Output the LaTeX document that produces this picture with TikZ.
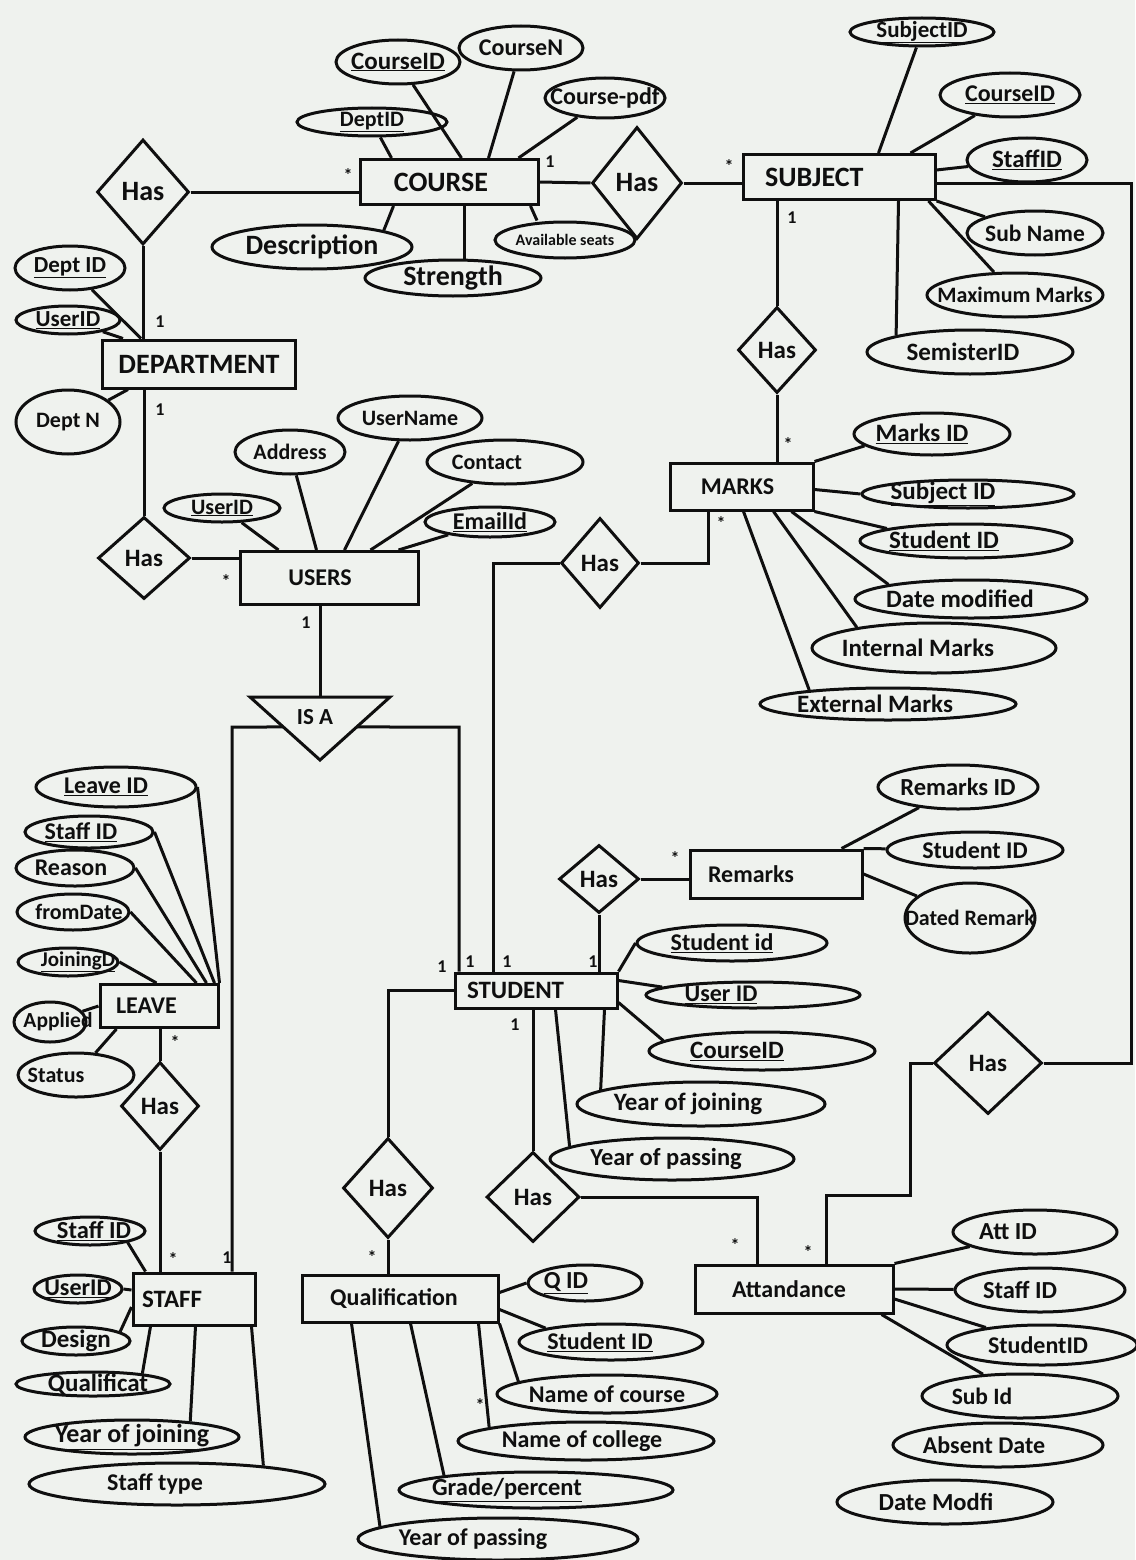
\documentclass[tikz,border=0pt]{standalone}
\usepackage{fontspec}
\setmainfont{Carlito}
\usetikzlibrary{shapes.geometric,calc}
\definecolor{paper}{RGB}{239,242,238}
\definecolor{ink}{RGB}{15,15,15}
\newcommand{\fsz}[1]{\fontsize{#1}{#1}\selectfont}
\newcommand{\uln}[1]{\underline{#1}}
\begin{document}
\begin{tikzpicture}[x=1pt,y=-1pt, line width=3pt, color=ink,
 ent/.style 2 args={draw, rectangle, minimum width=#1pt, minimum height=#2pt, inner sep=0pt},
 att/.style 2 args={draw, ellipse, minimum width=#1pt, minimum height=#2pt, inner sep=0pt},
 rel/.style 2 args={draw, diamond, minimum width=#1pt, minimum height=#2pt, inner sep=0pt},
 tx/.style={font=\fsz{#1}\bfseries, inner sep=0pt},
 card/.style={font=\fsz{18}\bfseries, inner sep=0pt}]
\fill[paper] (0,0) rectangle (1135,1560);
\useasboundingbox (0,0) rectangle (1135,1560);

% ---------- entities
\node[ent={178}{45}, label={[tx=28,xshift=-8pt]center:COURSE}] (course) at (449,182) {};
\node[ent={192}{45}, label={[tx=28,anchor=west,xshift=22pt]west:SUBJECT}] (subject) at (839,177) {};
\node[ent={193}{48}, label={[tx=28]center:DEPARTMENT}] (dept) at (199,364) {};
\node[ent={178}{53}, label={[tx=24,xshift=-9pt]center:USERS}] (users) at (329,578) {};
\node[ent={143}{47}, label={[tx=24,xshift=-4pt]center:MARKS}] (marks) at (741.5,486.5) {};
\node[ent={162}{35}, label={[tx=25,anchor=west,xshift=12pt]west:STUDENT}] (student) at (536,990.5) {};
\node[ent={172}{48}, label={[tx=24,anchor=west,xshift=18pt]west:Remarks}] (remarks) at (776,874) {};
\node[ent={118}{43}, label={[tx=24,anchor=west,xshift=16pt]west:LEAVE}] (leave) at (159,1006) {};
\node[ent={122}{52}, label={[tx=25,anchor=west,xshift=9pt]west:STAFF}] (staff) at (194,1299) {};
\node[ent={196}{47}, label={[tx=24,xshift=-6pt]center:Qualification}] (qual) at (400,1298.5) {};
\node[ent={198}{48}, label={[tx=24,xshift=-5pt]center:Attandance}] (att) at (794,1289) {};

% ---------- relationships
\node[rel={92}{105}, tx=28] (hasCD) at (143,192) {Has};
\node[rel={90}{112}, tx=28] (hasCS) at (637,183) {Has};
\node[rel={78}{86}, tx=25] (hasSM) at (777,350) {Has};
\node[rel={92}{82}, tx=25] (hasDU) at (144,558) {Has};
\node[rel={78}{90}, tx=25] (hasMS) at (600,563) {Has};
\node[rel={80}{68}, tx=25] (hasSR) at (599,879) {Has};
\node[rel={90}{100}, tx=25] (hasSQ) at (388,1188) {Has};
\node[rel={93}{90}, tx=25] (hasSA) at (533,1197) {Has};
\node[rel={108}{102}, tx=25] (hasSAt) at (988,1063) {Has};
\node[rel={78}{88}, tx=25] (hasLS) at (160,1106) {Has};

% IS A triangle
\coordinate (isaTL) at (250,697);
\coordinate (isaTR) at (390,697);
\coordinate (isaB) at (320,760);
\coordinate (isaT) at (320,697);
\draw (isaTL) -- (isaTR) -- (isaB) -- cycle;
\node[tx=23] (isa) at (315,717) {IS A};
\coordinate (isaL) at ($(isaTL)!0.476!(isaB)$);
\coordinate (isaR) at ($(isaTR)!0.476!(isaB)$);

% ---------- attributes: COURSE
\node[att={124}{44}, label={[tx=25]center:\uln{CourseID}}] (cid) at (398,62) {};
\node[att={124}{44}, label={[tx=24]center:CourseN}] (cn) at (521,48) {};
\node[att={120}{40}, label={[tx=24]center:Course-pdf}] (cpdf) at (605,98) {};
\node[att={150}{28}, label={[tx=22]center:\uln{DeptID}}] (deptid) at (372,122) {};
\node[att={200}{44}, label={[tx=28]center:Description}] (desc) at (312,247) {};
\node[att={176}{36}, label={[tx=28]center:Strength}] (str) at (453,278) {};
\node[att={140}{36}, label={[tx=16]center:Available seats}] (avail) at (565,240) {};
% SUBJECT
\node[att={144}{28}, label={[tx=23]center:\uln{SubjectID}}] (sid) at (922,32) {};
\node[att={140}{44}, label={[tx=24]center:\uln{CourseID}}] (scid) at (1010,95) {};
\node[att={120}{44}, label={[tx=25]center:\uln{StaffID}}] (sstaff) at (1027,160) {};
\node[att={136}{44}, label={[tx=23.5]center:Sub Name}] (sname) at (1035,233) {};
\node[att={176}{44}, label={[tx=22]center:Maximum Marks}] (smax) at (1015,295) {};
\node[att={206}{44}, label={[tx=25,xshift=-7pt]center:SemisterID}] (ssem) at (970,352) {};
% DEPARTMENT
\node[att={110}{44}, label={[tx=23]center:\uln{Dept ID}}] (did) at (70,268) {};
\node[att={104}{28}, label={[tx=23]center:\uln{UserID}}] (duid) at (68,320) {};
\node[att={104}{64}, label={[tx=22]center:Dept N}] (dn) at (68,422) {};
% USERS
\node[att={116}{28}, label={[tx=22]center:\uln{UserID}}] (uid) at (222,508) {};
\node[att={110}{44}, label={[tx=22]center:Address}] (uaddr) at (290,452) {};
\node[att={144}{44}, label={[tx=22]center:UserName}] (uname) at (410,418) {};
\node[att={156}{44}, label={[tx=22,xshift=-18pt]center:Contact}] (ucont) at (505,462) {};
\node[att={130}{30}, label={[tx=24]center:\uln{EmailId}}] (umail) at (490,522) {};
% MARKS
\node[att={156}{42}, label={[tx=25,xshift=-10pt]center:\uln{Marks ID}}] (mid) at (932,434) {};
\node[att={212}{28}, label={[tx=25,xshift=-25pt]center:\uln{Subject ID}}] (msub) at (968,494) {};
\node[att={212}{34}, label={[tx=25,xshift=-22pt]center:\uln{Student ID}}] (mstu) at (966,541) {};
\node[att={232}{38}, label={[tx=25,xshift=-11pt]center:Date modified}] (mdate) at (971,599) {};
\node[att={244}{50}, label={[tx=25,xshift=-16pt]center:Internal Marks}] (mint) at (934,648) {};
\node[att={256}{32}, label={[tx=25,xshift=-13pt]center:External Marks}] (mext) at (888,704) {};
% STUDENT
\node[att={190}{36}, label={[tx=24,xshift=-10pt]center:\uln{Student id}}] (ssid) at (732,943) {};
\node[att={214}{26}, label={[tx=24,xshift=-32pt]center:\uln{User ID}}] (suid) at (753,995) {};
\node[att={226}{38}, label={[tx=25,xshift=-25pt]center:\uln{CourseID}}] (scid2) at (762,1051) {};
\node[att={248}{44}, label={[tx=25,xshift=-13pt]center:Year of joining}] (syj) at (701,1104) {};
\node[att={244}{42}, label={[tx=24.5,xshift=-6pt]center:Year of passing}] (syp) at (672,1159) {};
% Remarks
\node[att={160}{44}, label={[tx=24.5]center:Remarks ID}] (rid) at (958,787) {};
\node[att={176}{36}, label={[tx=24]center:Student ID}] (rsid) at (975,850) {};
\node[att={130}{70}, label={[tx=22]center:Dated Remark}] (rdr) at (970,918) {};
% LEAVE
\node[att={160}{40}, label={[tx=24,xshift=-10pt]center:\uln{Leave ID}}] (lid) at (116,787) {};
\node[att={128}{32}, label={[tx=24,xshift=-8pt]center:\uln{Staff ID}}] (lsid) at (89,832) {};
\node[att={118}{36}, label={[tx=24,xshift=-4pt]center:Reason}] (lrea) at (75,868) {};
\node[att={112}{36}, label={[tx=22,xshift=6pt]center:fromDate}] (lfrom) at (73,912) {};
\node[att={100}{28}, label={[tx=21,xshift=10pt]center:\uln{JoiningD}}] (ljoin) at (68,962) {};
\node[att={72}{40}, label={[tx=21.5,xshift=8pt]center:Applied}] (lapp) at (50,1022) {};
\node[att={116}{44}, label={[tx=22,xshift=-20pt]center:Status}] (lstat) at (76,1075) {};
% STAFF
\node[att={110}{28}, label={[tx=24.5,xshift=4pt]center:\uln{Staff ID}}] (stid) at (90,1231) {};
\node[att={88}{28}, label={[tx=24]center:\uln{UserID}}] (stuid) at (78,1289) {};
\node[att={108}{28}, label={[tx=25]center:Design}] (stdes) at (76,1341) {};
\node[att={154}{24}, label={[tx=25,xshift=5pt]center:Qualificat}] (stq) at (93,1384) {};
\node[att={214}{34}, label={[tx=26]center:\uln{Year of joining}}] (styj) at (132,1437) {};
\node[att={296}{42}, label={[tx=24,xshift=-22pt]center:Staff type}] (sttype) at (177,1484) {};
% Qualification
\node[att={114}{36}, label={[tx=24.5,xshift=-19pt]center:\uln{Q ID}}] (qid) at (585,1283) {};
\node[att={184}{36}, label={[tx=24,xshift=-11pt]center:\uln{Student ID}}] (qsid) at (611,1342) {};
\node[att={220}{38}, label={[tx=24]center:Name of course}] (qnc) at (607,1394) {};
\node[att={256}{38}, label={[tx=24,xshift=-4pt]center:Name of college}] (qncol) at (586,1441) {};
\node[att={274}{36}, label={[tx=24.5,xshift=-29pt]center:\uln{Grade/percent}}] (qgp) at (536,1490) {};
\node[att={280}{42}, label={[tx=24,xshift=-25pt]center:Year of passing}] (qyp) at (498,1539) {};
% Attandance
\node[att={164}{44}, label={[tx=24.5,xshift=-27pt]center:Att ID}] (aid) at (1035,1232) {};
\node[att={170}{44}, label={[tx=24.5,xshift=-20pt]center:Staff ID}] (asid) at (1040,1290) {};
\node[att={190}{40}, label={[tx=24,xshift=-4pt]center:StudentID}] (astu) at (1042,1345) {};
\node[att={196}{44}, label={[tx=23.5,xshift=-38pt]center:Sub Id}] (asub) at (1020,1396) {};
\node[att={210}{44}, label={[tx=24,xshift=-14pt]center:Absent Date}] (aabs) at (998,1445) {};
\node[att={216}{44}, label={[tx=24.5,xshift=-9pt]center:Date Modfi}] (adm) at (945,1502) {};

% ---------- relationship connectors
\draw (hasCD.east) -- (hasCD.east -| course.west);
\draw (course.east) -- (hasCS.west);
\draw (hasCS.east) -- (hasCS.east -| subject.west);
\draw (hasCD.south) -- (hasCD.south |- dept.north);
\draw (hasDU.north |- dept.south) -- (hasDU.north);
\draw (hasDU.east) -- (hasDU.east -| users.west);
\draw (isaT |- users.south) -- (isaT);
\coordinate (cornL) at (232,727);
\coordinate (cornR) at (459,727);
\draw (isaL) -- (cornL) -- (cornL |- staff.north);
\draw (isaR) -- (cornR) -- (cornR |- student.north);
\draw (hasSM.north |- subject.south) -- (hasSM.north);
\draw (hasSM.south) -- (hasSM.south |- marks.north);
\draw (hasMS.east) -| ([xshift=-33.5pt]marks.south);
\draw (hasMS.west) -| ([xshift=-43pt]student.north);
\draw (hasSR.south) -- (hasSR.south |- student.north);
\draw (hasSR.east) -- (hasSR.east -| remarks.west);
\draw (student.west) -| (hasSQ.north);
\draw (hasSQ.south) -- (hasSQ.south |- qual.north);
\draw (hasSA.north |- student.south) -- (hasSA.north);
\draw (hasSA.east) -| ([xshift=-37pt]att.north);
\coordinate (rt) at (1131,1063);
\draw ([yshift=-6pt]subject.east) -| (rt) -- (hasSAt.east);
\coordinate (jA) at (910,1195);
\draw (hasSAt.west) -| (jA) -| ([xshift=32pt]att.north);
\draw (hasLS.north |- leave.south) -- (hasLS.north);
\draw (hasLS.south) -- (hasLS.south |- staff.north);

% ---------- attribute connectors
\draw ([xshift=103pt]course.north west) -- (cid);
\draw ([xshift=130pt]course.north west) -- (cn);
\draw ([xshift=160pt]course.north west) -- (cpdf);
\draw ([xshift=33pt]course.north west) -- (deptid);
\draw ([xshift=35pt]course.south west) -- (desc.north east);
\draw ([xshift=106pt]course.south west) -- ([xshift=106pt]course.south west |- str.north);
\draw ([xshift=172pt]course.south west) -- ([xshift=-28pt]avail.north);

\draw ([xshift=137pt]subject.north west) -- (sid);
\draw ([xshift=169pt]subject.north west) -- (scid);
\draw ([yshift=7pt]subject.east) -- (sstaff);
\draw (subject.south east) -- (sname);
\draw ([xshift=-8pt]subject.south east) -- (smax);
\draw ([xshift=157pt]subject.south west) -- (ssem.north west);

\draw ([xshift=40pt]dept.north west) -- (did);
\draw ([xshift=22pt]dept.north west) -- (duid);
\draw ([xshift=27pt]dept.south west) -- (dn);

\draw ([xshift=40pt]users.north west) -- (uid);
\draw ([xshift=78pt]users.north west) -- (uaddr);
\draw ([xshift=106pt]users.north west) -- (uname);
\draw ([xshift=132pt]users.north west) -- (ucont);
\draw ([xshift=160pt]users.north west) -- (umail);

\draw (marks.north east) -- (mid.190);
\draw ([yshift=-3pt]marks.east) -- (msub.west);
\draw (marks.south east) -- (mstu.171);
\draw ([xshift=-23pt]marks.south east) -- (mdate.170);
\draw ([xshift=-41pt]marks.south east) -- (mint.165);
\draw ([xshift=-71pt]marks.south east) -- (mext.170);

\draw (student.north east) -- (ssid.west);
\draw ([yshift=10pt]student.east) -- (suid.175);
\draw ([yshift=-12pt]student.east) -- (scid2.174);
\draw ([xshift=-14pt]student.south east) -- (syj.172);
\draw ([xshift=102pt]student.south west) -- (syp.173);

\draw ([xshift=-22pt]remarks.north east) -- (rid);
\draw (remarks.north east) -- (rsid);
\draw (remarks.east) -- (rdr);

\draw (leave.north east) -- (lid.east);
\draw ([xshift=-5pt]leave.north east) -- (lsid.east);
\draw ([xshift=-13pt]leave.north east) -- (lrea.east);
\draw ([xshift=-23pt]leave.north east) -- (lfrom.east);
\draw ([xshift=-63pt]leave.north east) -- (ljoin.east);
\draw (leave.west) -- (lapp);
\draw ([xshift=18pt]leave.south west) -- (lstat);

\draw ([xshift=14pt]staff.north west) -- (stid.-17);
\draw ([yshift=9pt]staff.west) -- (stuid.east);
\draw ([yshift=-8pt]staff.west) -- (stdes.12);
\draw ([xshift=19pt]staff.south west) -- (stq.12);
\draw ([xshift=64pt]staff.south west) -- (styj.15);
\draw ([xshift=120pt]staff.south west) -- (sttype.12);

\draw ([yshift=6pt]qual.east) -- (qid.west);
\draw ([yshift=-11pt]qual.east) -- (qsid.168);
\draw (qual.south east) -- (qnc.172);
\draw ([xshift=-21pt]qual.south east) -- (qncol.172);
\draw ([xshift=110pt]qual.south west) -- (qgp.171);
\draw ([xshift=51pt]qual.south west) -- (qyp.174);

\draw (att.north east) -- (aid);
\draw (att.east) -- (asid);
\draw ([yshift=-10pt]att.east) -- (astu);
\draw ([xshift=-13pt]att.south east) -- (asub);

% ---------- cardinalities
\node[card] (k1) at (348,175) {*};
\node[card] (k2) at (550,162) {1};
\node[card] (k3) at (729,166) {*};
\node[card] (k4) at (792,218) {1};
\node[card] (k5) at (788,444) {*};
\node[card] (k6) at (721,523) {*};
\node[card] (k7) at (160,322) {1};
\node[card] (k8) at (160,410) {1};
\node[card] (k9) at (226,581) {*};
\node[card] (k10) at (306,623) {1};
\node[card] (k11) at (175,1042) {*};
\node[card] (k12) at (173,1259) {*};
\node[card] (k13) at (227,1258) {1};
\node[card] (k14) at (442,967) {1};
\node[card] (k15) at (470,962) {1};
\node[card] (k16) at (507,962) {1};
\node[card] (k17) at (593,962) {1};
\node[card] (k18) at (515,1025) {1};
\node[card] (k19) at (675,858) {*};
\node[card] (k20) at (372,1257) {*};
\node[card] (k21) at (735,1245) {*};
\node[card] (k22) at (808,1252) {*};
\node[card] (k23) at (480,1405) {*};
\end{tikzpicture}
\end{document}
